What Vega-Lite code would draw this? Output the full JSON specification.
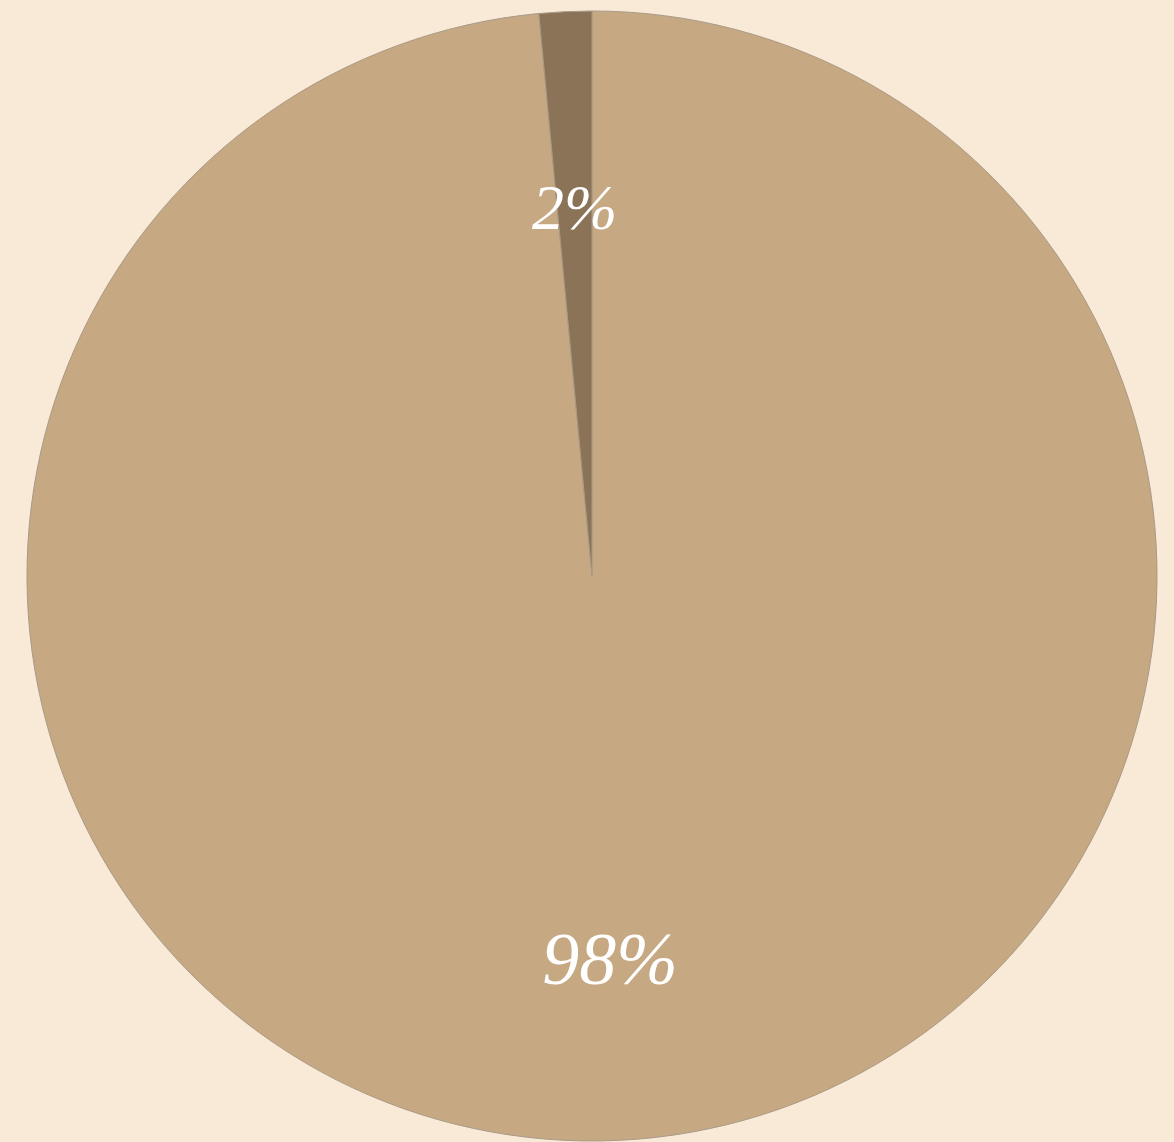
{
  "$schema": "https://vega.github.io/schema/vega-lite/v6.json",
  "autosize": {"type": "fit", "contains": "padding"},
  "width": 1174,
  "height": 1142,
  "padding": {"left": 10, "top": 10, "right": 0, "bottom": 0},
  "background": "#f9ead7",
  "config": {"view": {"stroke": null}},
  "data": {
    "values": [
      {"category": "A", "value": 98.5, "label": "98%", "order": 1},
      {"category": "B", "value": 1.5, "label": "2%", "order": 2}
    ]
  },
  "encoding": {
    "theta": {"field": "value", "type": "quantitative", "stack": true},
    "order": {"field": "order", "type": "quantitative"}
  },
  "layer": [
    {
      "mark": {"type": "arc", "outerRadius": 565, "stroke": "#a89a86", "strokeWidth": 1},
      "encoding": {
        "color": {
          "field": "category",
          "type": "nominal",
          "scale": {"domain": ["A", "B"], "range": ["#c6a883", "#8b7357"]},
          "legend": null
        }
      }
    },
    {
      "mark": {"type": "text", "font": "Liberation Serif", "fontStyle": "italic", "fill": "#ffffff", "baseline": "middle", "align": "center"},
      "encoding": {
        "text": {"field": "label", "type": "nominal"},
        "radius": {"field": "value", "type": "quantitative", "scale": {"type": "linear", "zero": false, "domain": [1.5, 98.5], "range": [366, 386]}},
        "size": {"condition": {"test": "datum.value < 50", "value": 64}, "value": 74}
      }
    }
  ]
}
